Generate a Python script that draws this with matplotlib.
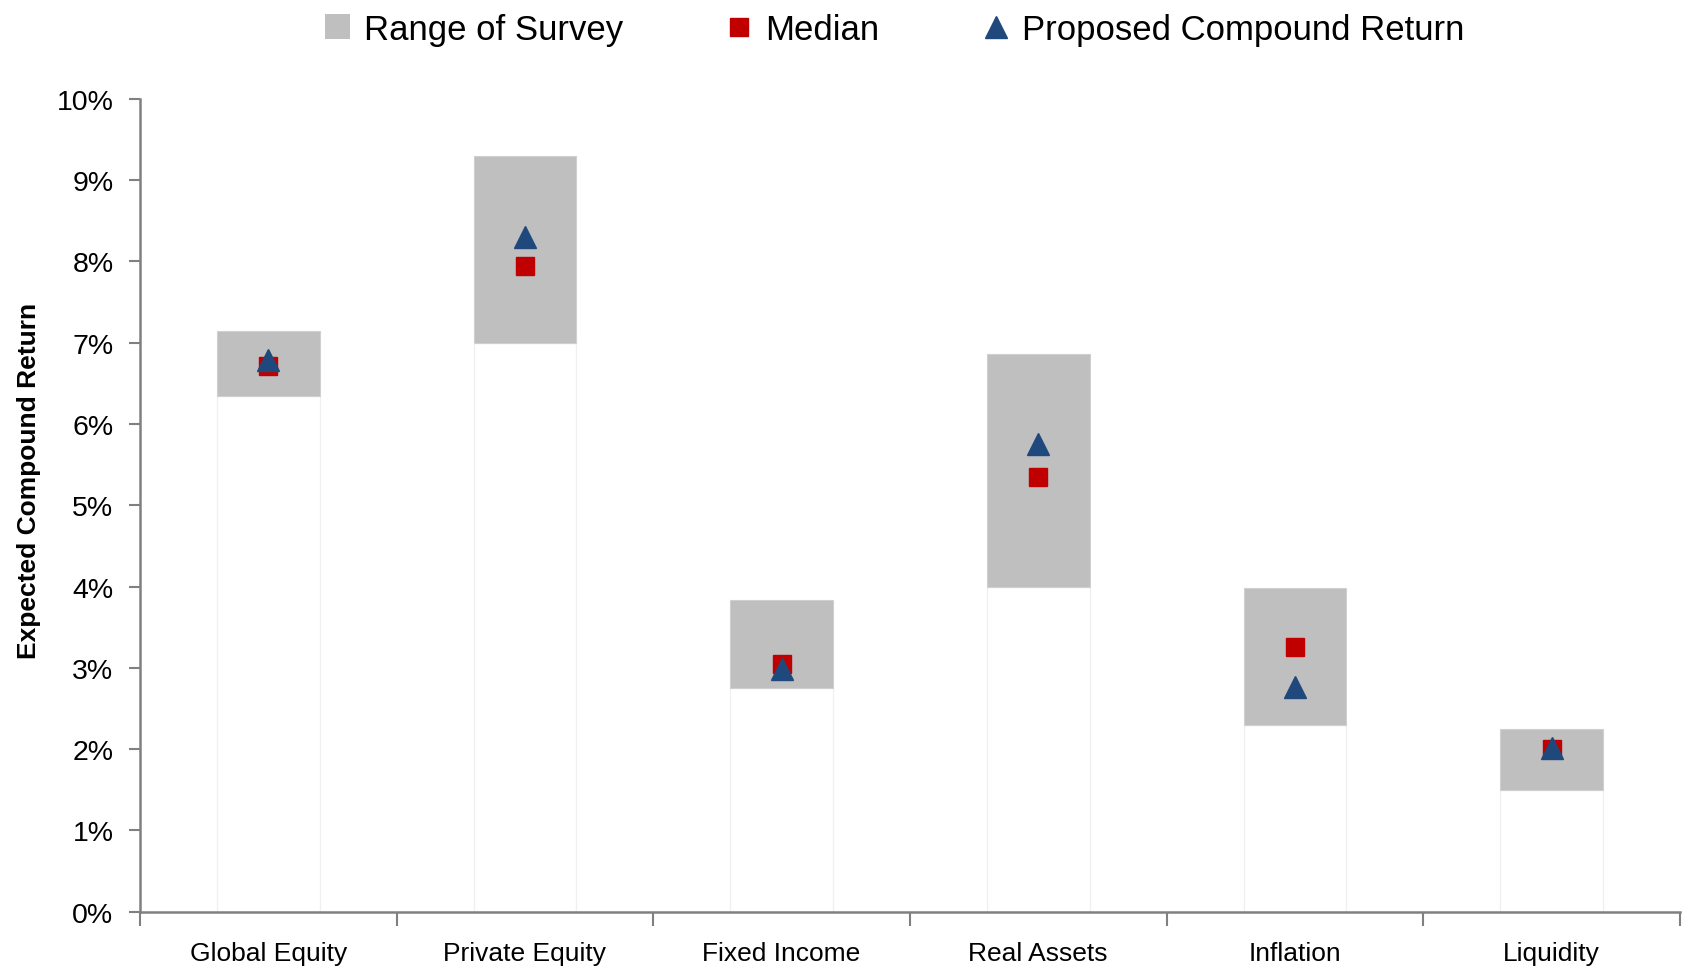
import numpy as np
import matplotlib.pyplot as plt
from matplotlib.lines import Line2D
from matplotlib.patches import Patch

# Donnees (en %)
categories = ["Global Equity", "Private Equity", "Fixed Income",
              "Real Assets", "Inflation", "Liquidity"]
range_low = [6.34, 7.00, 2.75, 4.00, 2.30, 1.50]
range_high = [7.15, 9.30, 3.84, 6.86, 3.98, 2.25]
median = [6.71, 7.95, 3.05, 5.35, 3.26, 2.00]
proposed = [6.79, 8.30, 2.99, 5.76, 2.76, 2.01]

GRAY = "#BFBFBF"
RED = "#C00000"
BLUE = "#1F497D"
AXIS = "#808080"

plt.rcParams["font.family"] = ["Liberation Sans", "DejaVu Sans"]

fig = plt.figure(figsize=(16.85, 9.7), dpi=100)
ax = fig.add_axes([0.083, 0.059, 0.914, 0.838])

x = np.arange(len(categories))
low = np.array(range_low)
span = np.array(range_high) - low

# Barre invisible (base) + barre grise (plage de l'enquete)
ax.bar(x, low, width=0.4, color="white", edgecolor="#F0F0F0", linewidth=1, zorder=1)
ax.bar(x, span, bottom=low, width=0.4, color=GRAY, edgecolor="#D0D0D0",
       linewidth=0.8, zorder=2)
ax.plot(x, median, "s", color=RED, markersize=13, linestyle="none", zorder=3)
ax.plot(x, proposed, "^", color=BLUE, markersize=16, linestyle="none", zorder=4)

ax.set_xlim(-0.5, len(categories) - 0.5)
ax.set_ylim(0, 10)
ax.set_yticks(range(0, 11))
ax.set_yticklabels([f"{v}%" for v in range(0, 11)], fontsize=20.5)

# Graduations x entre les categories, libelles centres
ax.set_xticks(np.arange(-0.5, len(categories), 1.0))
ax.set_xticklabels([])
ax.set_xticks(x, minor=True)
ax.set_xticklabels(categories, minor=True, fontsize=19)
ax.tick_params(axis="x", which="minor", length=0, pad=21)
ax.tick_params(axis="x", which="major", direction="out", length=10, width=1.5, color=AXIS)
ax.tick_params(axis="y", direction="out", length=8, width=1.5, color=AXIS, pad=11)

for s in ["top", "right"]:
    ax.spines[s].set_visible(False)
for s in ["left", "bottom"]:
    ax.spines[s].set_color(AXIS)
    ax.spines[s].set_linewidth(1.8)

ax.set_ylabel("Expected Compound Return", fontsize=19, fontweight="bold")
ax.yaxis.set_label_coords(-0.064, 0.531)

handles = [
    Patch(facecolor=GRAY, edgecolor="none", label="Range of Survey"),
    Line2D([], [], marker="s", color=RED, linestyle="none", markersize=13, label="Median"),
    Line2D([], [], marker="^", color=BLUE, linestyle="none", markersize=16,
           label="Proposed Compound Return"),
]
fig.legend(handles=handles, loc="upper center", bbox_to_anchor=(0.531, 1.018), ncol=3,
           frameon=False, fontsize=25, handlelength=0.7, handleheight=0.7,
           handletextpad=0.4, columnspacing=3.0)

fig.savefig("out.png", dpi=100)
